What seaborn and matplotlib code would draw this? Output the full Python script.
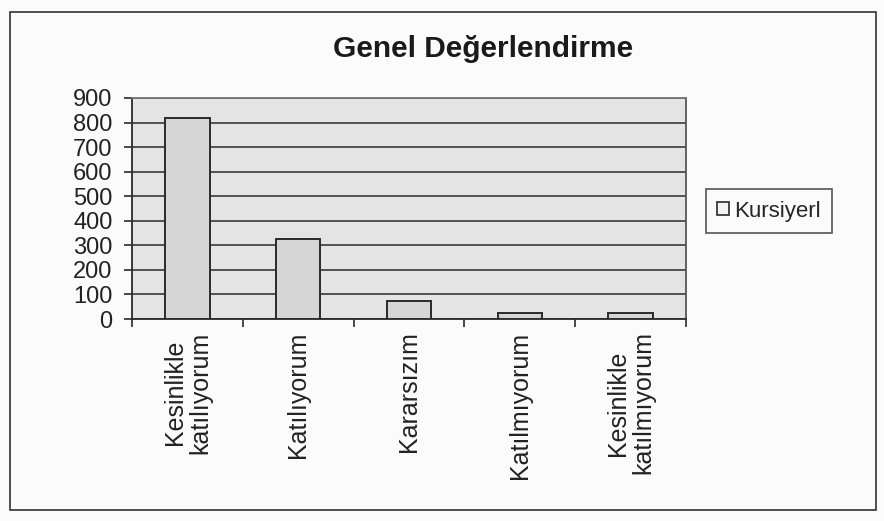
import numpy as np
import pandas as pd
import matplotlib
matplotlib.use("Agg")
import matplotlib.pyplot as plt
from matplotlib.patches import Rectangle, Patch
import seaborn as sns

# Veriler
kategoriler = ["Kesinlikle\nkatılıyorum", "Katılıyorum", "Kararsızım",
               "Katılmıyorum", "Kesinlikle\nkatılmıyorum"]
kursiyer = [820, 325, 72, 25, 25]
y_ticks = list(range(0, 1000, 100))
seri_adi = "Kursiyerl"
baslik = "Genel Değerlendirme"

df = pd.DataFrame({"kategori": kategoriler, "deger": kursiyer})

sns.set_theme(style="white")
plt.rcParams["font.family"] = ["Liberation Sans", "DejaVu Sans"]

fig = plt.figure(figsize=(8.84, 5.21), dpi=100, facecolor="#fbfbfb")
ax = fig.add_axes([132 / 884, 1 - 319 / 521, (686 - 132) / 884, (319 - 98) / 521])
ax.set_facecolor("#e4e4e4")

sns.barplot(data=df, x="kategori", y="deger", ax=ax, color="#d6d6d6",
            edgecolor="#2a2a2a", linewidth=1.4, width=0.4, saturation=1, zorder=3)

ax.set_xlim(-0.5, len(kategoriler) - 0.5)
ax.set_ylim(0, 900)
ax.set_yticks(y_ticks)
ax.set_yticklabels([str(v) for v in y_ticks], fontsize=17, color="#222222")
ax.yaxis.grid(True, color="#2a2a2a", linewidth=1.1, zorder=1)
ax.set_axisbelow(True)

# Excel tarzı: tik çizgileri kategori sınırlarında, etiketler ortada
ax.set_xticks(np.arange(len(kategoriler)))
ax.set_xticklabels(kategoriler, rotation=90, fontsize=18, color="#222222",
                   ha="center", va="top", multialignment="center",
                   linespacing=1.05)
ax.tick_params(axis="x", which="major", length=0, pad=9)
ax.set_xticks(np.arange(-0.5, len(kategoriler)), minor=True)
ax.tick_params(axis="x", which="minor", length=6, width=1.2, color="#2a2a2a",
               direction="out", bottom=True)
ax.tick_params(axis="y", length=6, width=1.2, color="#2a2a2a", direction="out",
               left=True, pad=8)
ax.set_xlabel("")
ax.set_ylabel("")

for side in ["left", "bottom", "top", "right"]:
    ax.spines[side].set_visible(True)
    ax.spines[side].set_color("#2a2a2a")
    ax.spines[side].set_linewidth(1.3)
ax.spines["top"].set_color("#777777")
ax.spines["right"].set_color("#555555")

fig.text(483 / 884, 1 - 49 / 521, baslik, fontsize=21.5, fontweight="bold",
         ha="center", va="center", color="#1a1a1a")

handle = Patch(facecolor="#f4f4f4", edgecolor="#2a2a2a", linewidth=1.2)
leg = fig.legend([handle], [seri_adi], loc="center left",
                 bbox_to_anchor=(706 / 884, 1 - 211 / 521), fontsize=16,
                 frameon=True, fancybox=False, handlelength=0.55, handleheight=0.55,
                 handletextpad=0.2, borderpad=0.5, borderaxespad=0)
leg.get_frame().set_edgecolor("#2a2a2a")
leg.get_frame().set_linewidth(1.2)
leg.get_frame().set_facecolor("#fbfbfb")

fig.patches.append(Rectangle((10 / 884, 1 - 510 / 521), 866 / 884, 498 / 521,
                             transform=fig.transFigure, fill=False,
                             edgecolor="#333333", linewidth=1.2))

fig.savefig("out.png", dpi=100, facecolor=fig.get_facecolor())
